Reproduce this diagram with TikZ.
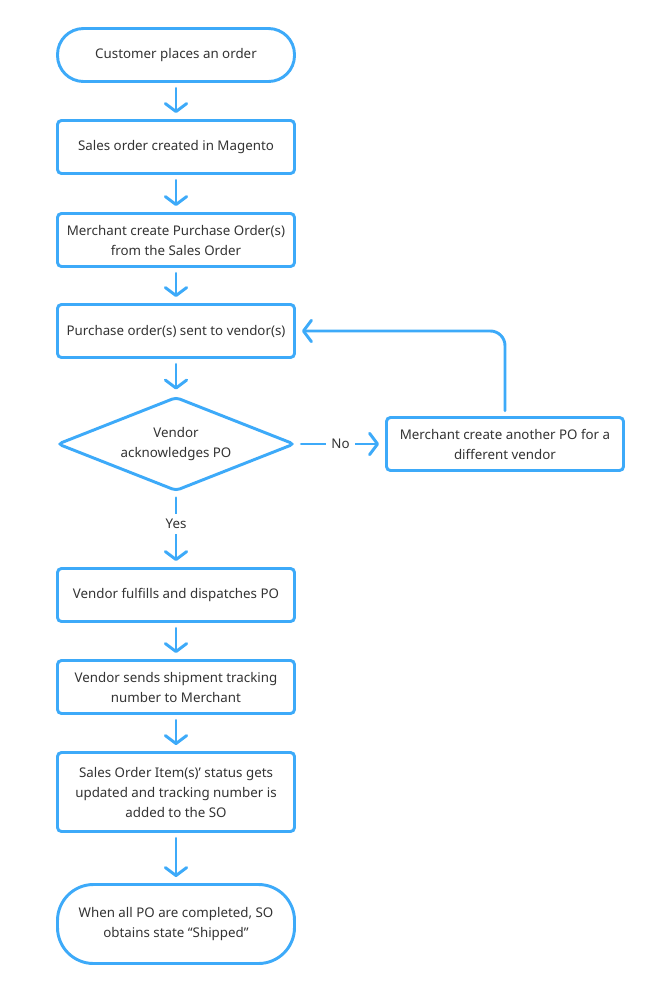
\documentclass[tikz,border=0pt]{standalone}
\usepackage{fontspec}
\setmainfont{Noto Sans}
\usetikzlibrary{arrows.meta,shapes.geometric}
\definecolor{flowblue}{HTML}{3DAAF9}
\definecolor{flowtext}{HTML}{333333}
\begin{document}
\begin{tikzpicture}[
        x=0.75pt, y=-0.75pt,
        line width=2.2pt,
        >={Straight Barb[length=6pt,width=16pt,round]},
        every node/.style={font=\fontsize{10}{15}\selectfont, text=flowtext, align=center},
        box/.style={draw=flowblue, rounded corners=3pt, minimum width=177.75pt,
          minimum height=39.75pt, inner sep=0pt},
        stadium/.style={box, rounded corners=19.5pt},
        decision/.style={draw=flowblue, diamond, aspect=2.52, rounded corners=3pt,
          minimum width=177.75pt, minimum height=70.5pt, inner sep=0pt},
        flow/.style={->, draw=flowblue, line cap=round, shorten <=4pt, shorten >=4.5pt},
        lbl/.style={fill=white, inner sep=4pt}
    ]
    % Background and margins
    \useasboundingbox[fill=white] (0,0) rectangle (661,1000);

    % Main column
    \node[stadium] (order) at (176,55) {Customer places an order};
    \node[box] (sales) at (176,147) {Sales order created in Magento};
    \node[box] (po) at (176,240) {Merchant create Purchase Order(s)\\from the Sales Order};
    \node[box] (sent) at (176,331) {Purchase order(s) sent to vendor(s)};
    \node[decision] (ack) at (176,444) {Vendor\\acknowledges PO};
    \node[box] (ship) at (176,595) {Vendor fulfills and dispatches PO};
    \node[box] (track) at (176,687) {Vendor sends shipment tracking\\number to Merchant};
    \node[box, minimum height=59.25pt] (status) at (176,792)
      {Sales Order Item(s)’ status gets\\updated and tracking number is\\added to the SO};
    \node[stadium, minimum height=59.25pt, rounded corners=27pt] (done) at (176,924)
      {When all PO are completed, SO\\obtains state “Shipped”};

    % Side branch
    \node[box] (other) at (505,444) {Merchant create another PO for a\\different vendor};

    % Straight arrows
    \foreach \a/\b in {order/sales, sales/po, po/sent, sent/ack, ship/track, track/status, status/done}
      \draw[flow] (\a) -- (\b);

    % Yes / No
    \draw[flow] (ack) -- node[lbl, pos=0.42] {Yes} (ship);
    \draw[flow] (ack) -- node[lbl, pos=0.5] {No} (other);

    % Back to the vendor step
    \draw[flow, rounded corners=11pt] (other.north) |- (sent.east);
\end{tikzpicture}
\end{document}
